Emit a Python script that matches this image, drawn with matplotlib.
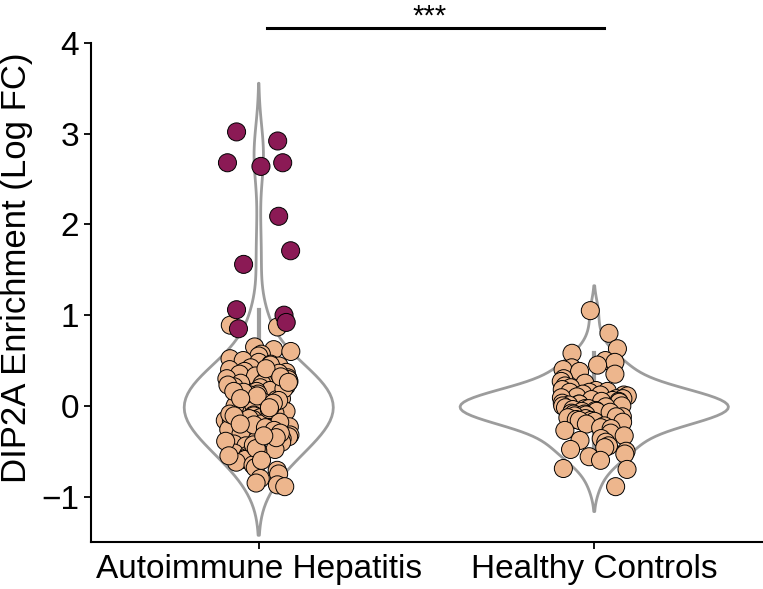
import numpy as np
import pandas as pd
import matplotlib
matplotlib.use("Agg")
import matplotlib.pyplot as plt
import seaborn as sns

# ---- data ----
groups = ["Autoimmune Hepatitis", "Healthy Controls"]

aih_values = [0.89, 0.87, 0.65, 0.62, 0.60, 0.57, 0.55, 0.52, 0.50, 0.48, 0.46, 0.44, 0.42,
              0.40, 0.38, 0.37, 0.35, 0.33, 0.31, 0.30, 0.28, 0.27, 0.25, 0.24, 0.22, 0.21,
              0.20, 0.18, 0.17, 0.16, 0.14, 0.13, 0.12, 0.10, 0.09, 0.08, 0.07, 0.05, 0.04,
              0.03, 0.02, 0.01, 0.00, -0.01, -0.02, -0.03, -0.05, -0.06, -0.07, -0.08, -0.10,
              -0.11, -0.12, -0.13, -0.15, -0.16, -0.17, -0.19, -0.20, -0.22, -0.23, -0.25,
              -0.26, -0.28, -0.29, -0.31, -0.32, -0.34, -0.36, -0.38, -0.40, -0.42, -0.44,
              -0.46, -0.48, -0.50, -0.52, -0.54, -0.57, -0.59, -0.62, -0.65, -0.68, -0.71,
              -0.75, -0.80, -0.85, -0.87, -0.89,
              0.45, 0.36, 0.29, 0.23, 0.19, 0.15, 0.11, 0.06, 0.03, 0.00, -0.04, -0.09, -0.14,
              -0.18, -0.21, -0.24, -0.27, -0.30, -0.35, -0.39, -0.43, -0.47, -0.55, -0.60,
              0.41, 0.32, 0.26, 0.16, 0.08, -0.02, -0.11, -0.20, -0.33]

aih_high_values = [3.02, 2.92, 2.68, 2.68, 2.64, 2.09, 1.71, 1.56, 1.06, 1.00, 0.92, 0.85]

hc_values = [1.05, 0.80, 0.63, 0.58, 0.50, 0.48, 0.45, 0.42, 0.40, 0.38, 0.35, 0.30, 0.27,
             0.25, 0.22, 0.20, 0.18, 0.17, 0.16, 0.15, 0.15,
             0.13, 0.12, 0.12, 0.11, 0.10, 0.09, 0.08, 0.08, 0.07, 0.06, 0.05, 0.05, 0.04,
             0.03, 0.02, 0.02, 0.01, 0.00, 0.00, -0.01, -0.02, -0.03, -0.03, -0.04, -0.05,
             -0.06, -0.06, -0.07, -0.08, -0.09, -0.09, -0.10, -0.11, -0.12, -0.12, -0.13,
             -0.14, -0.15, -0.16, -0.16, -0.17,
             -0.18, -0.20, -0.22, -0.24, -0.25, -0.27, -0.30, -0.33, -0.36, -0.38, -0.40,
             -0.44, -0.46, -0.48, -0.50, -0.53, -0.56, -0.60, -0.69, -0.70, -0.89]

yticks = [-1, 0, 1, 2, 3, 4]
ylabel = "DIP2A Enrichment (Log FC)"
sig_label = "***"

orange = "#EDB68D"
purple = "#8B1A55"
gray = "#9C9C9C"

df = pd.DataFrame({
    "group": [groups[0]] * (len(aih_values) + len(aih_high_values)) + [groups[1]] * len(hc_values),
    "value": aih_values + aih_high_values + hc_values,
    "kind": ["base"] * len(aih_values) + ["high"] * len(aih_high_values) + ["base"] * len(hc_values),
})

plt.rcParams["font.family"] = ["Liberation Sans", "DejaVu Sans"]

fig = plt.figure(figsize=(7.63, 5.89), dpi=100)
ax = fig.add_axes([91 / 763, 47 / 589, 671 / 763, 499 / 589])

sns.violinplot(data=df, x="group", y="value", order=groups, fill=False,
               color=gray, linewidth=2, inner="box", ax=ax)

np.random.seed(7)
sns.stripplot(data=df, x="group", y="value", order=groups, hue="kind",
              hue_order=["base", "high"], palette={"base": orange, "high": purple},
              jitter=0.1, size=13, edgecolor="black", linewidth=0.7,
              legend=False, ax=ax, zorder=3)

ax.set_xlim(-0.5, 1.5)
ax.set_ylim(-1.5, 4)
ax.set_yticks(yticks)
ax.set_yticklabels(["\u22121" if t < 0 else str(t) for t in yticks])
ax.tick_params(axis="both", labelsize=24, width=1.3, length=5, color="black")
ax.set_xlabel("")
ax.set_ylabel(ylabel, fontsize=25)
ax.yaxis.set_label_coords(-0.086, 0.55)
for s in ["top", "right"]:
    ax.spines[s].set_visible(False)
for s in ["left", "bottom"]:
    ax.spines[s].set_linewidth(1.5)

ax.plot([0.025, 1.03], [4.17, 4.17], color="black", lw=2.2, clip_on=False)
ax.text(0.51, 4.2, sig_label, ha="center", va="baseline", fontsize=21, clip_on=False)

fig.savefig("out.png", dpi=100)
